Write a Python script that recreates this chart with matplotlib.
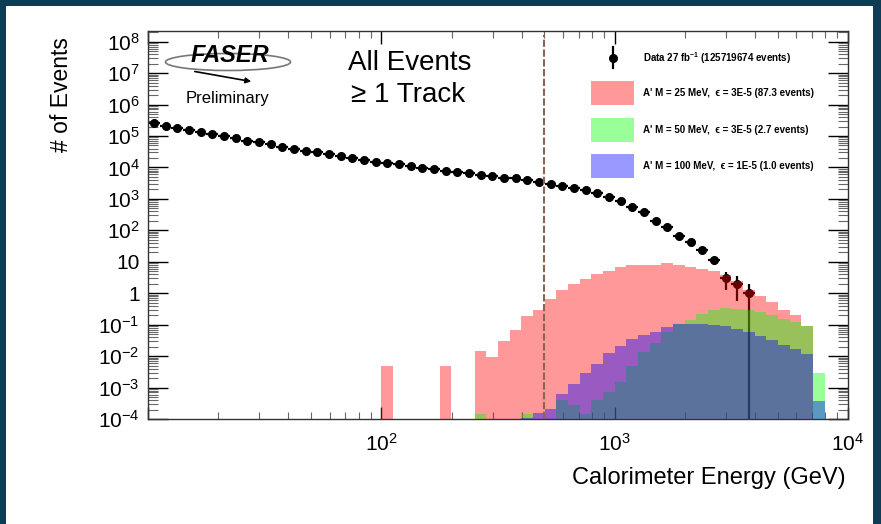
import numpy as np
import matplotlib
matplotlib.use('Agg')
import matplotlib.pyplot as plt
from matplotlib.patches import Rectangle, Ellipse
from matplotlib.lines import Line2D
from matplotlib.ticker import LogLocator, FuncFormatter, NullFormatter

plt.rcParams['font.family'] = ['Liberation Sans', 'DejaVu Sans']
plt.rcParams['mathtext.fontset'] = 'custom'
plt.rcParams['mathtext.rm'] = 'Liberation Sans'
plt.rcParams['mathtext.it'] = 'Liberation Sans:italic'
plt.rcParams['mathtext.bf'] = 'Liberation Sans:bold'

# 20 log bins per decade, 10 GeV - 10 TeV
edges = 10**(1 + 0.05*np.arange(61))

# data counts per bin (first 52 bins)
data_counts = [251000, 214000, 182000, 155000, 132000, 112000, 100000, 85100, 70800, 63100,
               55000, 45700, 38900, 33900, 30200, 26300, 22900, 19950, 17400, 15100,
               14100, 12900, 11200, 9770, 8910, 7760, 7240, 6460, 5750, 5370,
               4790, 4470, 3980, 3390, 2950, 2570, 2240, 1905, 1550, 1175,
               871, 562, 372, 195, 129, 66, 43, 23, 11, 3,
               2, 1]

# signal expectations per bin
sig_m25 = [0]*20 + [0.0047, 0, 0, 0, 0, 0.0047, 0, 0, 0.0141, 0.0093,
                    0.0295, 0.066, 0.182, 0.30, 0.66, 1.23, 1.91, 2.88, 4.17, 5.25,
                    6.61, 7.76, 8.13, 7.94, 8.91, 7.76, 6.92, 5.75, 5.25, 3.72,
                    2.40, 1.26, 0.79, 0.525, 0.288, 0.20, 0.089, 0, 0, 0]
sig_m50 = [0]*20 + [0, 0, 0, 0, 0, 0, 0, 0, 1.41e-4, 0,
                    0, 0, 1.41e-4, 0, 0, 4.17e-4, 2.69e-4, 1.41e-4, 4.17e-4, 7.08e-4,
                    1.51e-3, 4.79e-3, 0.0135, 0.0269, 0.0589, 0.105, 0.145, 0.224, 0.288, 0.339,
                    0.324, 0.302, 0.257, 0.209, 0.155, 0.123, 0.089, 0.00295, 0, 0]
sig_m100 = [0]*30 + [0, 0, 1.07e-4, 1.58e-4, 2.14e-4, 6.46e-4, 1.32e-3, 2.88e-3, 5.75e-3, 0.0126,
                     0.0204, 0.0347, 0.0479, 0.0589, 0.0813, 0.102, 0.102, 0.102, 0.0955, 0.089,
                     0.0741, 0.0589, 0.0427, 0.0331, 0.0229, 0.017, 0.0115, 3.63e-4, 0, 0]

labels = ["A' M = 25 MeV,  \u03f5 = 3E-5 (87.3 events)",
          "A' M = 50 MeV,  \u03f5 = 3E-5 (2.7 events)",
          "A' M = 100 MeV,  \u03f5 = 1E-5 (1.0 events)"]
colors = ['red', 'lime', 'blue']
cut_energy = 500

W, H = 881, 524
fig = plt.figure(figsize=(W/100, H/100), dpi=100)
ax = fig.add_axes([148/W, 1-419/H, 700/W, 388/H])

def fx(x):
    return x/W

def fy(y):
    return 1 - y/H

# data with poisson errors
n = len(data_counts)
y = np.array(data_counts, dtype=float)
xc = 0.5*(edges[:n] + edges[1:n+1])
xerr = [xc - edges[:n], edges[1:n+1] - xc]
err = np.sqrt(y)
ylo = np.minimum(err, y - 1e-7)
ax.errorbar(xc, y, xerr=xerr, yerr=[ylo, err], fmt='o', color='k', ms=5.5,
            lw=1.6, capsize=0, zorder=2)

for vals, c in zip([sig_m25, sig_m50, sig_m100], colors):
    v = np.array(vals, dtype=float)
    ax.stairs(np.where(v > 0, v, 1e-7), edges, baseline=1e-7, fill=True,
              color=c, alpha=0.4, lw=0, zorder=3)

ax.plot([cut_energy, cut_energy], [1e-4, 10**8.2], color='#8b6553', lw=1.5,
        dashes=(3.5, 1.2), zorder=4)

ax.set_xscale('log')
ax.set_yscale('log')
ax.set_xlim(10, 1e4)
ax.set_ylim(1e-4, 10**8.34)

ax.xaxis.set_major_locator(LogLocator(base=10, numticks=10))
ax.xaxis.set_minor_locator(LogLocator(base=10, subs=np.arange(2, 10), numticks=20))
ax.yaxis.set_major_locator(LogLocator(base=10, numticks=20))
ax.yaxis.set_minor_locator(LogLocator(base=10, subs=np.arange(2, 10), numticks=30))

def xfmt(v, pos):
    e = int(round(np.log10(v)))
    return r'$10^{%d}$' % e if e >= 2 else ''

def yfmt(v, pos):
    e = int(round(np.log10(v)))
    if e == 0:
        return '1'
    if e == 1:
        return '10'
    return r'$10^{%d}$' % e

ax.xaxis.set_major_formatter(FuncFormatter(xfmt))
ax.yaxis.set_major_formatter(FuncFormatter(yfmt))
ax.xaxis.set_minor_formatter(NullFormatter())
ax.yaxis.set_minor_formatter(NullFormatter())

ax.tick_params(which='both', direction='in', top=True, right=True)
ax.tick_params(axis='x', which='major', length=9, width=1, labelsize=15, pad=10)
ax.tick_params(axis='x', which='minor', length=4.8, width=0.8, color='#666')
ax.tick_params(axis='y', which='major', length=14.4, width=1, labelsize=15, pad=6)
ax.tick_params(axis='y', which='minor', length=7.2, width=0.8, color='#666')
for s in ax.spines.values():
    s.set_linewidth(1)
    s.set_color('#333')

fig.text(fx(62), fy(37), '# of Events', rotation=90, ha='center', va='top', fontsize=16.5)
fig.text(fx(846), fy(478), 'Calorimeter Energy (GeV)', ha='right', va='center', fontsize=17)

# FASER logo
fig.patches.append(Ellipse((fx(228), fy(62)), 125/W, 17/H, fill=False,
                           edgecolor='#777', lw=1.2, transform=fig.transFigure))
fig.text(fx(230), fy(55), 'FASER', ha='center', va='center', fontsize=17,
         fontweight='bold', fontstyle='italic')
ax.annotate('', xy=(fx(254), fy(82)), xytext=(fx(192), fy(71)),
            xycoords='figure fraction', textcoords='figure fraction',
            arrowprops=dict(arrowstyle='-|>', color='k', lw=1.2, mutation_scale=8))
fig.text(fx(227), fy(98), 'Preliminary', ha='center', va='center', fontsize=12)

fig.text(fx(410), fy(63), 'All Events', ha='center', va='center', fontsize=20)
fig.text(fx(408), fy(95), '\u2265 1 Track', ha='center', va='center', fontsize=20)

# legend
fig.lines.append(Line2D([fx(613), fx(613)], [fy(47), fy(68)], color='k', lw=1.6,
                        transform=fig.transFigure))
fig.lines.append(Line2D([fx(613)], [fy(58)], marker='o', color='k', ms=5.5,
                        transform=fig.transFigure))
fig.text(fx(643), fy(58), r'Data 27 fb$^{\mathbf{-1}}$ (125719674 events)', ha='left',
         va='center', fontsize=7, fontweight='bold')
for i, (lab, c) in enumerate(zip(labels, colors)):
    yc = 93 + i*36.7
    fig.patches.append(Rectangle((fx(591), fy(yc + 12)), 43/W, 24/H, facecolor=c,
                                 alpha=0.4, lw=0, transform=fig.transFigure))
    fig.text(fx(643), fy(yc), lab, ha='left', va='center', fontsize=7, fontweight='bold')

# frame around the figure
navy = '#0f3c55'
for r in [(0, 0, 6, H), (0, 0, W, 6), (W-8, 0, 8, H)]:
    fig.patches.append(Rectangle((fx(r[0]), fy(r[1] + r[3])), r[2]/W, r[3]/H,
                                 facecolor=navy, lw=0, transform=fig.transFigure, zorder=10))

fig.savefig('out.png', dpi=100)
